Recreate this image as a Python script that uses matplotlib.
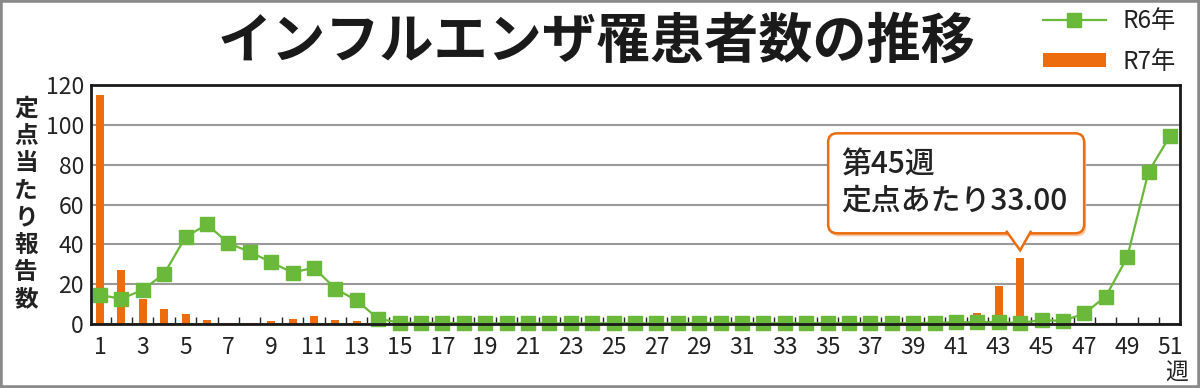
import numpy as np
import matplotlib
matplotlib.use("Agg")
import matplotlib.pyplot as plt
import matplotlib.transforms as mtransforms
from matplotlib.patches import FancyBboxPatch, Polygon, Rectangle

plt.rcParams['font.family'] = ['Noto Sans CJK JP', 'DejaVu Sans']

# ---------------- data ----------------
title = "インフルエンザ罹患者数の推移"
ylabel = "定点当たり報告数"
week_unit = "週"
weeks = list(range(1, 52))
r6_label = "R6年"
r7_label = "R7年"
r6_values = [14.6, 12.6, 17.2, 25.2, 43.7, 50.0, 40.6, 36.2, 31.0, 25.8,
             28.3, 17.7, 11.8, 2.6, 0.7, 0.5, 0.6, 0.3, 0.3, 0.3,
             0.3, 0.3, 0.3, 0.3, 0.3, 0.3, 0.3, 0.3, 0.5, 0.6,
             0.5, 0.3, 0.4, 0.4, 0.4, 0.4, 0.4, 0.4, 0.4, 0.6,
             0.8, 1.0, 0.9, 0.5, 2.0, 1.5, 5.3, 13.8, 33.4, 76.5,
             94.3]
r7_values = [115.0, 27.0, 12.8, 7.5, 5.0, 2.0, 0.6, 0.5, 1.5, 2.5,
             4.0, 1.8, 1.5, 0.5, 0.0, 0.0, 0.0, 0.0, 0.0, 0.0,
             0.0, 0.0, 0.0, 0.0, 0.0, 0.0, 0.0, 0.0, 0.0, 0.0,
             0.0, 0.0, 0.0, 0.0, 0.0, 0.0, 0.0, 0.0, 0.0, 0.0,
             0.8, 5.3, 19.3, 33.0, np.nan, np.nan, np.nan, np.nan, np.nan, np.nan,
             np.nan]
callout_week = 44
callout_lines = ["第45週", "定点あたり33.00"]
yticks = [0, 20, 40, 60, 80, 100, 120]
xtick_weeks = list(range(1, 52, 2))

GREEN = "#6AB93A"
ORANGE = "#EC6C0E"

fig = plt.figure(figsize=(12, 3.88), dpi=100)
ax = fig.add_axes([91/1200, 1-324/388, (1180-91)/1200, (324-85)/388])

# bars
ax.bar(weeks, r7_values, width=0.38, color=ORANGE, zorder=2, label=r7_label)
# line
ax.plot(weeks, r6_values, color=GREEN, lw=1.6, marker='s', markersize=10,
        markeredgecolor=GREEN, zorder=3, label=r6_label, clip_on=False)

ax.set_xlim(0.58, 51.47)
ax.set_ylim(0, 120)
ax.set_yticks(yticks)
ax.set_xticks(xtick_weeks)
ax.set_xticks([w + 0.5 for w in weeks[:-1]], minor=True)
ax.tick_params(axis='x', which='major', length=0, pad=9, labelsize=16.5, colors='#222222')
ax.tick_params(axis='x', which='minor', length=5, width=1, direction='in', color='#222222')
ax.tick_params(axis='y', which='major', length=0, pad=5, labelsize=16.5, colors='#222222')
ax.yaxis.grid(True, color='#9a9a9a', lw=1.5)
ax.set_axisbelow(True)
for s in ax.spines.values():
    s.set_color('#1a1a1a')
    s.set_linewidth(2)
    s.set_zorder(4)

# week unit under last label
ax.text(51.3, -0.205, week_unit, transform=mtransforms.blended_transform_factory(ax.transData, ax.transAxes),
        ha='center', va='center', fontsize=16.5, color='#222222')

# y label stacked vertically
fig.text(26/1200, 1-204/388, "\n".join(ylabel), ha='center', va='center',
         fontsize=17, fontweight='bold', color='#222222', linespacing=1.17)

# title
fig.text(597/1200, 1-42/388, title, ha='center', va='center', fontsize=39,
         fontweight='bold', color='#1a1a1a')

# legend
leg = ax.legend(loc='upper right', bbox_to_anchor=(1176/1200, 1 - 8/388),
                bbox_transform=fig.transFigure, frameon=False, fontsize=17.5,
                handlelength=2.6, handleheight=0.5, labelspacing=0.6,
                handletextpad=0.7, borderpad=0, borderaxespad=0)
for t in leg.get_texts():
    t.set_color('#222222')

# callout (pixel offsets relative to the annotated bar)
tip_y = r7_values[callout_week - 1] + 4
trans = mtransforms.ScaledTranslation(callout_week, tip_y, ax.transData)
offset = mtransforms.IdentityTransform() + trans
box_l, box_r, box_b, box_t = -192, 64, 17, 117
shadow = FancyBboxPatch((box_l + 2, box_b - 3), box_r - box_l, box_t - box_b,
                        boxstyle="round,pad=0,rounding_size=9", transform=offset,
                        facecolor='#f6c9a6', edgecolor='none', zorder=5, clip_on=False)
fig.add_artist(shadow)
box = FancyBboxPatch((box_l, box_b), box_r - box_l, box_t - box_b,
                     boxstyle="round,pad=0,rounding_size=9", transform=offset,
                     facecolor='white', edgecolor=ORANGE, lw=1.8, zorder=6, clip_on=False)
fig.add_artist(box)
notch = Polygon([(-14, box_b + 2.5), (0, 0), (11, box_b + 2.5)], closed=False,
                transform=offset, facecolor='white', edgecolor=ORANGE, lw=1.8,
                zorder=7, clip_on=False)
fig.add_artist(notch)
fig.text(0, 0, callout_lines[0], transform=offset + mtransforms.Affine2D().translate(-179, 86),
         ha='left', va='center', fontsize=21.5, fontweight='medium', color='#222222', zorder=8)
fig.text(0, 0, callout_lines[1], transform=offset + mtransforms.Affine2D().translate(-179, 49),
         ha='left', va='center', fontsize=21.5, fontweight='medium', color='#222222', zorder=8)

# outer border
fig.add_artist(Rectangle((0, 0), 1, 1, transform=fig.transFigure, fill=False,
                         edgecolor='#8a8a8a', lw=4))

fig.savefig("out.png", dpi=100)
